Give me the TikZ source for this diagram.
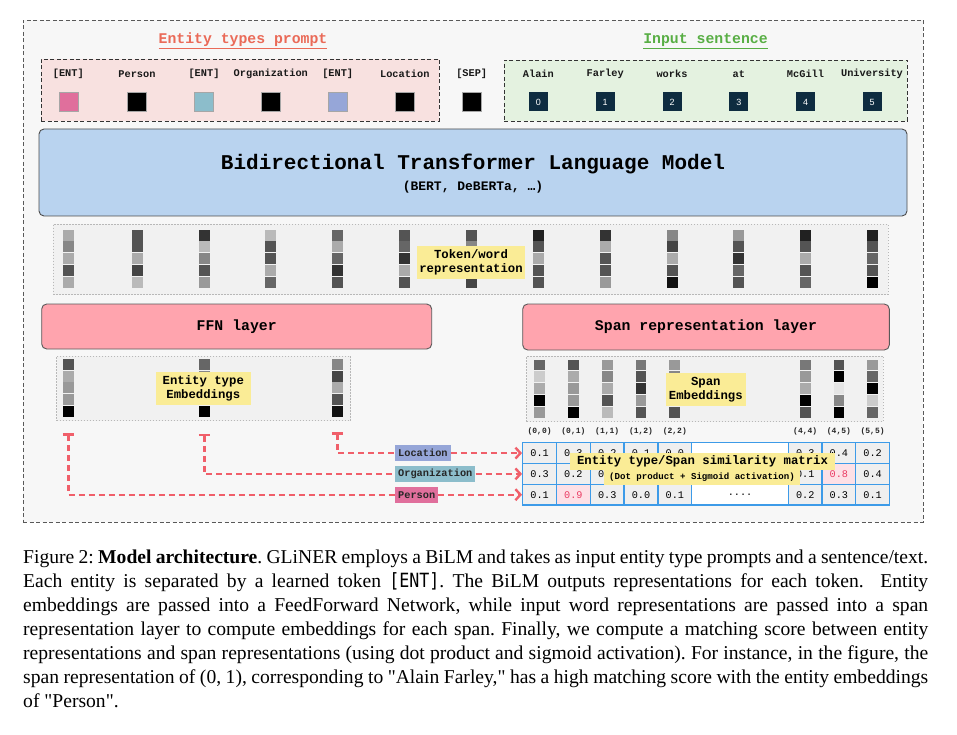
\documentclass[tikz,border=0pt]{standalone}
\usepackage{fontspec}
\setmonofont{Liberation Mono}
\newfontfamily\capfont{Liberation Serif}
\newfontfamily\numfont{Liberation Sans}
\newfontfamily\capmono{DejaVu Sans Mono}[FakeStretch=0.85]
\usetikzlibrary{arrows.meta,calc}
\definecolor{bgcol}{HTML}{F7F7F7}
\definecolor{promptfill}{HTML}{F8E1E0}
\definecolor{inputfill}{HTML}{E4F2E0}
\definecolor{promptred}{HTML}{EA6A58}
\definecolor{inputgreen}{HTML}{58AE44}
\definecolor{bertblue}{HTML}{B9D3EF}
\definecolor{layerpink}{HTML}{FFA4AE}
\definecolor{areagray}{HTML}{F1F1F1}
\definecolor{noteyellow}{HTML}{FAEC96}
\definecolor{entpink}{HTML}{E06F9C}
\definecolor{entteal}{HTML}{8CBDCB}
\definecolor{entblue}{HTML}{96A6D8}
\definecolor{tokennavy}{HTML}{0E2C40}
\definecolor{connred}{HTML}{F05F6A}
\definecolor{matblue}{HTML}{3D9BE8}
\definecolor{cellgray}{HTML}{EFEFEF}
\definecolor{hipink}{HTML}{FDE0E6}
\definecolor{hired}{HTML}{EA3A62}
\tikzset{
  outerframe/.style={rectangle, draw=black!65, line width=0.9pt, dash pattern=on 4pt off 2.5pt, fill=bgcol, inner sep=0pt},
  groupbox/.style={rectangle, draw=black!80, line width=0.9pt, dash pattern=on 4pt off 2.5pt, inner sep=0pt},
  grouptitle/.style={font=\ttfamily\bfseries\fontsize{14.8}{17}\selectfont, inner sep=0pt},
  toklabel/.style={font=\ttfamily\bfseries\fontsize{10.3}{12}\selectfont, inner sep=0pt, text=black!90},
  toksq/.style={rectangle, minimum size=19pt, inner sep=0pt, draw=black!35, line width=0.6pt},
  numsq/.style={rectangle, minimum size=19pt, inner sep=0pt, fill=tokennavy, text=white, font=\numfont\fontsize{9}{10}\selectfont},
  bertbox/.style={rectangle, rounded corners=5pt, draw=black!70, line width=0.9pt, fill=bertblue, inner sep=0pt},
  layerbox/.style={rectangle, rounded corners=5pt, draw=black!65, line width=0.9pt, fill=layerpink, inner sep=0pt, font=\ttfamily\bfseries\fontsize{14.8}{17}\selectfont},
  area/.style={rectangle, draw=black!28, line width=0.8pt, dash pattern=on 1.5pt off 1.5pt, fill=areagray, inner sep=0pt},
  note/.style={rectangle, fill=noteyellow, inner sep=0pt, align=center, font=\ttfamily\bfseries\fontsize{12.3}{14}\selectfont},
  spanlab/.style={font=\ttfamily\bfseries\fontsize{8}{10}\selectfont, inner sep=0pt, text=black!85},
  cell/.style={rectangle, draw=matblue, line width=1.3pt, fill=cellgray, minimum width=33.8pt, minimum height=20.8pt, inner sep=0pt, font=\ttfamily\fontsize{10.2}{12}\selectfont},
  hicell/.style={cell, fill=hipink, text=hired},
  entlab/.style={rectangle, anchor=west, inner xsep=3pt, inner ysep=0pt, minimum height=16pt, font=\ttfamily\bfseries\fontsize{10.3}{12}\selectfont, text=black!85},
  conn/.style={draw=connred, line width=2.4pt, dash pattern=on 6pt off 4pt},
  capline/.style={anchor=base west, inner sep=0pt, font=\capfont\frenchspacing\fontsize{19.6}{24}\selectfont},
}
\begin{document}
\begin{tikzpicture}[x=1pt,y=-1pt]
\useasboundingbox (0,0) rectangle (957,735);
\fill[white] (0,0) rectangle (957,735);

% outer frame
\node[outerframe, minimum width=900, minimum height=502] (frame) at (473,271) {};

% group boxes and titles
\node[groupbox, fill=promptfill, minimum width=398, minimum height=62] (pbox) at (240,90) {};
\node[groupbox, fill=inputfill, minimum width=403, minimum height=61] (ibox) at (705.5,90.5) {};
\node[grouptitle, text=promptred] (ptitle) at (243,41) {\underline{Entity types prompt}};
\node[grouptitle, text=inputgreen] (ititle) at (705.5,41) {\underline{Input sentence}};

% prompt tokens
\foreach \x/\lab/\col/\nm in {68.3/{[ENT]}/entpink/t1, 137/Person/black/t2, 204/{[ENT]}/entteal/t3, 270.8/Organization/black/t4, 337.7/{[ENT]}/entblue/t5, 404.8/Location/black/t6, 471.7/{[SEP]}/black/t7}{
  \node[toklabel] (l\nm) at (\x,74) {\lab};
  \node[toksq, fill=\col] (\nm) at (\x,102) {};
}
% input words
\foreach \x/\w/\n in {538.4/Alain/0, 605.2/Farley/1, 672/works/2, 738.8/at/3, 805.5/McGill/4, 872/University/5}{
  \node[toklabel] (w\n) at (\x,74) {\w};
  \node[numsq] (s\n) at (\x,102) {\n};
}

% transformer
\node[bertbox, minimum width=868, minimum height=87] (bert) at (473,172.5) {};
\node[inner sep=0pt, font=\ttfamily\bfseries\fontsize{21}{24}\selectfont] (berttitle) at (473,164) {Bidirectional Transformer Language Model};
\node[inner sep=0pt, font=\ttfamily\bfseries\fontsize{13}{15}\selectfont] (bertsub) at (473,187) {(BERT, DeBERTa, …)};

% token representations
\node[area, minimum width=835, minimum height=70] (tokarea) at (470.5,259.5) {};
\foreach \x/\va/\vb/\vc/\vd/\ve in {68.3/33/47/33/67/33, 137/67/67/33/73/27, 204/80/27/47/67/40, 270.8/27/67/67/33/60, 337.7/60/33/60/80/67, 404.8/67/60/80/33/67, 471.7/67/47/60/53/73, 538.4/87/67/33/67/67, 605.2/80/33/67/67/40, 672/47/73/33/67/93, 738.8/40/67/80/60/67, 805.5/87/67/33/67/60, 872/87/67/60/67/100}{
  \foreach \g [count=\i] in {\va,\vb,\vc,\vd,\ve}{
    \fill[black!\g] ({\x-5.5},{229.5+(\i-1)*11.9}) rectangle ++(11,11);
  }
}
\node[note, minimum width=108, minimum height=33] (toklab) at (471,262.5) {Token/word\\representation};

% layers
\node[layerbox, minimum width=390, minimum height=45] (ffn) at (236.7,326.5) {FFN layer};
\node[layerbox, minimum width=366.6, minimum height=46] (spanlayer) at (706,327) {Span representation layer};

% entity type embeddings
\node[area, minimum width=294, minimum height=64.7] (entarea) at (203.7,388.3) {};
\foreach \x/\va/\vb/\vc/\vd/\ve in {68.3/67/33/40/40/100, 204.3/60/47/53/40/100, 337.3/47/73/33/67/93}{
  \foreach \g [count=\i] in {\va,\vb,\vc,\vd,\ve}{
    \fill[black!\g] ({\x-5.5},{359+(\i-1)*11.7}) rectangle ++(11,10.8);
  }
}
\node[note, minimum width=94.7, minimum height=33.3] (entlabel) at (203.3,388.3) {Entity type\\Embeddings};

% span embeddings
\node[area, minimum width=356.6, minimum height=65.7] (spanarea) at (705,388.8) {};
\foreach \x/\va/\vb/\vc/\vd/\ve in {539.6/60/20/33/100/40, 573.4/67/33/40/40/100, 607.2/40/47/33/67/27, 641/53/67/80/40/67, 674.8/40/47/53/47/67, 805.2/53/40/33/100/67, 838.9/67/100/10/47/100, 872.6/40/60/100/20/60}{
  \foreach \g [count=\i] in {\va,\vb,\vc,\vd,\ve}{
    \fill[black!\g] ({\x-5.4},{359.5+(\i-1)*11.8}) rectangle ++(10.8,10.8);
  }
}
\node[note, minimum width=79.7, minimum height=33.3] (spanlabel) at (705.8,389.3) {Span\\Embeddings};

% span index labels
\foreach \x/\t [count=\k] in {539.6/{(0,0)}, 573.4/{(0,1)}, 607.2/{(1,1)}, 641/{(1,2)}, 674.8/{(2,2)}, 805.2/{(4,4)}, 838.9/{(4,5)}, 872.6/{(5,5)}}{
  \node[spanlab] (sl\k) at (\x,431.5) {\t};
}

% similarity matrix
\foreach \c/\x/\v in {1/539.6/0.1, 2/573.4/0.3, 3/607.2/0.2, 4/641/0.1, 5/674.8/0.0, 7/805.2/0.3, 8/838.9/0.4, 9/872.6/0.2}{
  \node[cell] (m1\c) at (\x,453.1) {\v};
}
\node[cell, fill=white, minimum width=96.6pt] (m16) at (740,453.1) {};
\foreach \c/\x/\v in {1/539.6/0.3, 2/573.4/0.2, 3/607.2/0.0, 4/641/0.1, 5/674.8/0.2, 7/805.2/0.1, 9/872.6/0.4}{
  \node[cell] (m2\c) at (\x,473.9) {\v};
}
\node[cell, fill=white, minimum width=96.6pt] (m26) at (740,473.9) {};
\node[hicell] (m28) at (838.9,473.9) {0.8};
\foreach \c/\x/\v in {1/539.6/0.1, 3/607.2/0.3, 4/641/0.0, 5/674.8/0.1, 7/805.2/0.2, 8/838.9/0.3, 9/872.6/0.1}{
  \node[cell] (m3\c) at (\x,494.7) {\v};
}
\node[cell, fill=white, minimum width=96.6pt] (m36) at (740,494.7) {....};
\node[hicell] (m32) at (573.4,494.7) {0.9};

\node[note, minimum width=265, minimum height=17.3] (simtitle) at (702.5,461.3) {Entity type/Span similarity matrix};
\node[note, minimum width=196, minimum height=16.5, font=\ttfamily\bfseries\fontsize{9.1}{11}\selectfont] (simsub) at (702,477) {(Dot product + Sigmoid activation)};

% entity type labels
\node[entlab, fill=entblue] (locl) at (395,453.1) {Location};
\node[entlab, fill=entteal] (orgl) at (395,473.9) {Organization};
\node[entlab, fill=entpink] (perl) at (395,494.7) {Person};

% connectors
\coordinate (cP) at (68.3,433.3);
\coordinate (cO) at (204.3,434);
\coordinate (cL) at (337.3,432.3);
\draw[conn, {Bar[width=11pt]}-] (cP) |- (perl.west);
\draw[conn, {Bar[width=11pt]}-] (cO) |- (orgl.west);
\draw[conn, {Bar[width=11pt]}-] (cL) |- (locl.west);
\draw[conn, -{Straight Barb[length=5pt,width=11pt]}] (perl.east) -- (m31.west);
\draw[conn, -{Straight Barb[length=5pt,width=11pt]}] (orgl.east) -- (m21.west);
\draw[conn, -{Straight Barb[length=5pt,width=11pt]}] (locl.east) -- (m11.west);

% caption
\node[capline] (cap1) at (23,563) {\makebox[905pt][s]{Figure 2: \textbf{Model architecture}. GLiNER employs a BiLM and takes as input entity type prompts and a sentence/text.}};
\node[capline] (cap2) at (23,587) {\makebox[905pt][s]{Each entity is separated by a learned token {\capmono [ENT]}. The BiLM outputs representations for each token.\ \ Entity}};
\node[capline] (cap3) at (23,611) {\makebox[905pt][s]{embeddings are passed into a FeedForward Network, while input word representations are passed into a span}};
\node[capline] (cap4) at (23,635) {\makebox[905pt][s]{representation layer to compute embeddings for each span. Finally, we compute a matching score between entity}};
\node[capline] (cap5) at (23,659) {\makebox[905pt][s]{representations and span representations (using dot product and sigmoid activation). For instance, in the figure, the}};
\node[capline] (cap6) at (23,683) {\makebox[905pt][s]{span representation of (0, 1), corresponding to "Alain Farley," has a high matching score with the entity embeddings}};
\node[capline] (cap7) at (23,707) {of "Person".};
\end{tikzpicture}
\end{document}
